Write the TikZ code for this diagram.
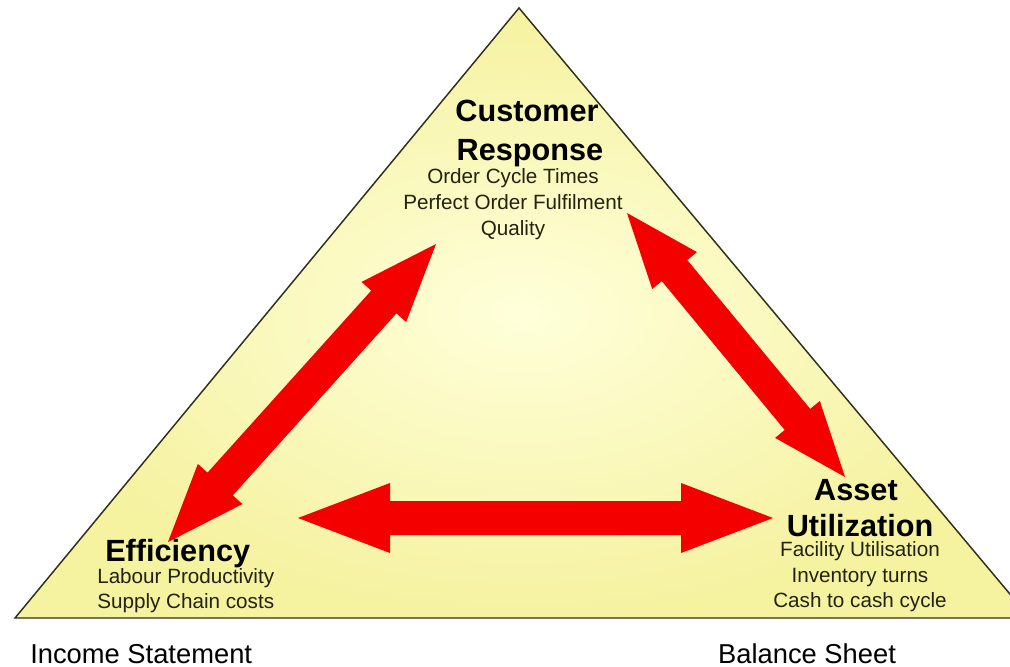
\documentclass[tikz,border=0pt]{standalone}
\usepackage{fontspec}
\setmainfont{Liberation Sans}
\usetikzlibrary{calc}
\definecolor{arrowred}{HTML}{F50000}
\definecolor{triin}{HTML}{FFFFDA}
\definecolor{triout}{HTML}{F5F2A0}
\definecolor{triedge}{HTML}{2E3018}
\definecolor{subtext}{HTML}{22220F}
\newcommand{\blockarrow}[5]{%
  \fill[arrowred] (#1)
    -- ($ ($(#1)!#5!(#2)$)!#4!90:(#2) $)
    -- ($ ($(#1)!#5!(#2)$)!#3!90:(#2) $)
    -- ($ ($(#2)!#5!(#1)$)!#3!-90:(#1) $)
    -- ($ ($(#2)!#5!(#1)$)!#4!-90:(#1) $)
    -- (#2)
    -- ($ ($(#2)!#5!(#1)$)!#4!90:(#1) $)
    -- ($ ($(#2)!#5!(#1)$)!#3!90:(#1) $)
    -- ($ ($(#1)!#5!(#2)$)!#3!-90:(#2) $)
    -- ($ ($(#1)!#5!(#2)$)!#4!-90:(#2) $)
    -- cycle;}
\begin{document}
\begin{tikzpicture}[x=0.75pt,y=-0.75pt,
  title/.style={font=\bfseries\fontsize{23}{27}\selectfont, inner sep=0pt, text=black},
  metric/.style={font=\fontsize{15.5}{18}\selectfont, inner sep=0pt, text=subtext},
  statement/.style={font=\fontsize{20.5}{24}\selectfont, inner sep=0pt, text=black}]
\useasboundingbox (0,0) rectangle (1010,667);
\clip (0,0) rectangle (1010,667);
% triangle
\coordinate (apex) at (519,8);
\coordinate (bl) at (15,618);
\coordinate (br) at (1030,618);
\shade[inner color=triin, outer color=triout] (apex) -- (bl) -- (br) -- cycle;
\draw[triedge, line width=1.1pt, line join=miter] (apex) -- (bl) -- (br) -- cycle;
% arrow end points
\coordinate (crL) at (436,244);
\coordinate (efT) at (168,542);
\coordinate (crR) at (627,213);
\coordinate (auT) at (845,477);
\coordinate (efR) at (298,518);
\coordinate (auL) at (773,518);
\blockarrow{crL}{efT}{12.75pt}{22.5pt}{58.5pt}
\blockarrow{crR}{auT}{12.4pt}{21.75pt}{56pt}
\blockarrow{efR}{auL}{12.75pt}{26.25pt}{69pt}
% Customer Response
\node[title, anchor=base] (cr1) at (527,122) {Customer};
\node[title, anchor=base] (cr2) at (530,160) {Response};
\node[metric, anchor=base] (cr3) at (513,183) {Order Cycle Times};
\node[metric, anchor=base] (cr4) at (513,209) {Perfect Order Fulfilment};
\node[metric, anchor=base] (cr5) at (513,235) {Quality};
% Efficiency
\node[title, anchor=base west] (ef1) at (105,561) {Efficiency};
\node[metric, anchor=base west] (ef2) at (97,583) {Labour Productivity};
\node[metric, anchor=base west] (ef3) at (97,608) {Supply Chain costs};
% Asset Utilization
\node[title, anchor=base] (au1) at (856,500) {Asset};
\node[title, anchor=base] (au2) at (860,536) {Utilization};
\node[metric, anchor=base] (au3) at (860,556) {Facility Utilisation};
\node[metric, anchor=base] (au4) at (860,582) {Inventory turns};
\node[metric, anchor=base] (au5) at (860,607) {Cash to cash cycle};
% statements
\node[statement, anchor=base west] (inc) at (30,663) {Income Statement};
\node[statement, anchor=base] (bal) at (807,663) {Balance Sheet};
\end{tikzpicture}
\end{document}
